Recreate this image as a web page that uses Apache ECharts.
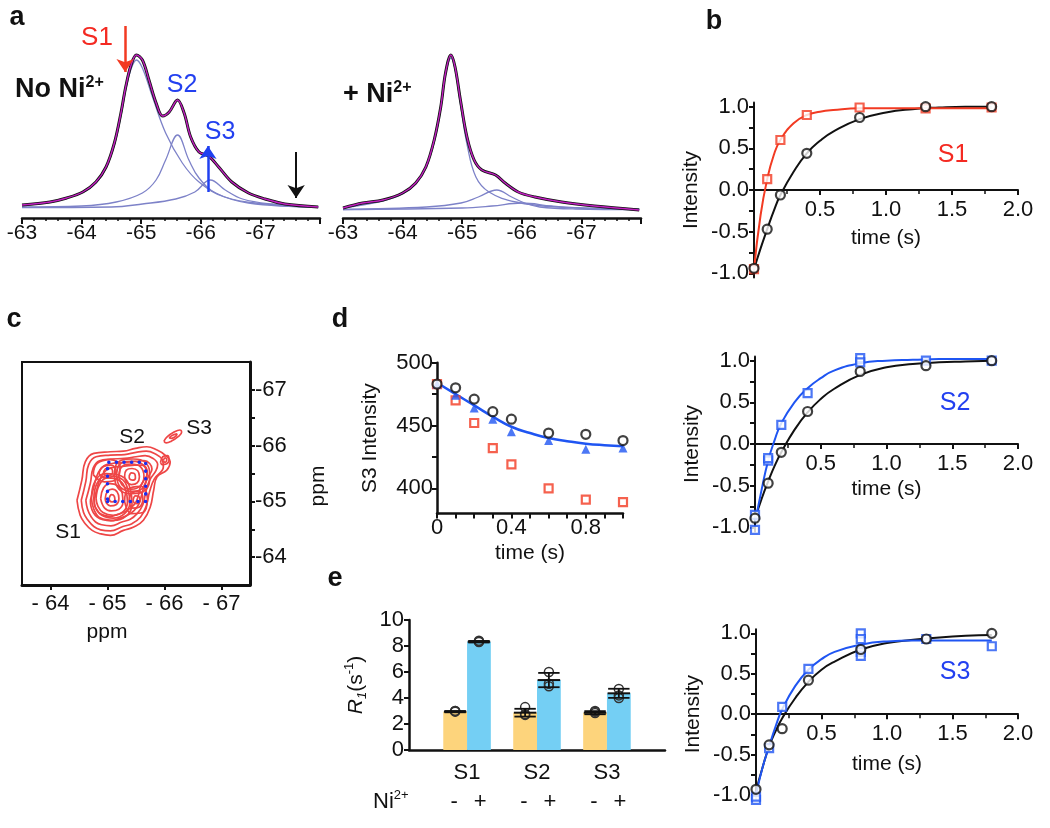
<!DOCTYPE html>
<html><head><meta charset="utf-8">
<script src="https://cdn.jsdelivr.net/npm/echarts@6/dist/echarts.min.js"></script>
<style>html,body{margin:0;padding:0;background:#fff}#c{width:1050px;height:828px}</style>
</head><body><div id="c"></div><script>
// ---------- panel a : 19F spectra (ppm, intensity) ----------
const aLeftPpm = [-63.0,-63.47,-63.75,-64.02,-64.24,-64.41,-64.55,-64.66,-64.74,-64.83,-64.92,-65.02,-65.13,-65.25,-65.36,-65.47,-65.61,-65.72,-65.83,-65.97,-66.13,-66.3,-66.52,-66.8,-67.08,-67.41,-67.97];
const aLeftSum = [3,6,10,16,26,41,65,95,121,143,153,148,128,105,92,96,108,95,71,56,52,41,26,15,9,4,1];
const aLeftS1Ppm = [-63.0,-63.5,-64.0,-64.24,-64.41,-64.55,-64.66,-64.74,-64.83,-64.92,-65.02,-65.19,-65.41,-65.69,-65.97,-66.4,-67.08,-67.97];
const aLeftS1 = [3,6,15,25,40,63,92,118,139,148,140,111,75,45,26,11,4,1];
const aLeftS2Ppm = [-63.0,-64.0,-64.58,-65.02,-65.25,-65.41,-65.61,-65.8,-65.97,-66.25,-66.8,-67.97];
const aLeftS2 = [1,2,6,15,28,48,73,48,30,15,5,1];
const aLeftS3Ppm = [-63.0,-64.5,-65.02,-65.58,-65.9,-66.16,-66.41,-66.7,-67.2,-67.97];
const aLeftS3 = [0.5,1,4,9,16,28,18,9,4,1];
const aRightPpm = [-63.0,-63.33,-63.67,-64.0,-64.22,-64.39,-64.53,-64.64,-64.72,-64.81,-64.88,-64.97,-65.08,-65.2,-65.33,-65.56,-65.72,-65.94,-66.22,-66.67,-67.22,-67.97];
const aRightSum = [2,7,10,17,27,43,70,103,137,155,143,110,73,50,40,35,27,18,13,8,4,0];
const aRightS1Ppm = [-63.0,-63.67,-64.0,-64.22,-64.39,-64.53,-64.64,-64.72,-64.81,-64.88,-64.97,-65.08,-65.23,-65.45,-65.9,-66.6,-67.97];
const aRightS1 = [2,9,16,26,42,68,101,135,152,141,106,66,33,18,8,3,1];
const aRightS2Ppm = [-63.0,-64.4,-64.98,-65.27,-65.58,-65.83,-66.05,-66.3,-66.9,-67.97];
const aRightS2 = [0.5,3,7,13,20,13,7,3,1,0.5];
const aRightS3Ppm = [-63.0,-65.0,-65.5,-66.0,-66.5,-67.0,-67.97];
const aRightS3 = [0.5,2,4,7,4,2,0.5];
const ppmTicks = [-63,-64,-65,-66,-67];

// ---------- panel b : inversion recovery ----------
const bTime = [0,0.1,0.2,0.4,0.8,1.3,1.8];
const bFitTime = [0,0.05,0.1,0.15,0.2,0.3,0.4,0.5,0.6,0.8,1.0,1.2,1.4,1.6,1.8];
const s1NoNi = [-0.94,-0.47,-0.06,0.44,0.87,1.0,1.0];
const s1Ni = [-0.95,0.13,0.6,0.9,0.99,0.98,0.99];
const s1NoNiFit = [-0.95,-0.70,-0.47,-0.25,-0.06,0.22,0.44,0.59,0.70,0.85,0.93,0.97,0.99,1.0,1.0];
const s1NiFit = [-0.95,-0.30,0.13,0.42,0.60,0.80,0.90,0.94,0.96,0.98,0.98,0.98,0.98,0.98,0.98];
const s2NoNi = [-0.89,-0.47,-0.1,0.39,0.87,0.94,1.0];
const s2NoNiFit = [-0.90,-0.66,-0.45,-0.26,-0.10,0.17,0.38,0.54,0.66,0.83,0.92,0.96,0.98,0.99,1.0];
const s2NiTime = [0,0,0.1,0.1,0.2,0.4,0.8,0.8,1.3,1.8];
const s2Ni = [-1.03,-0.85,-0.2,-0.17,0.23,0.61,1.03,0.98,1.0,1.0];
const s2NiFit = [-0.95,-0.55,-0.20,0.05,0.25,0.50,0.67,0.79,0.88,0.97,1.0,1.01,1.02,1.02,1.02];
const s3NoNi = [-0.93,-0.38,-0.18,0.42,0.8,0.93,1.0];
const s3NoNiFit = [-0.95,-0.66,-0.40,-0.21,-0.05,0.20,0.40,0.55,0.65,0.80,0.88,0.92,0.95,0.97,0.98];
const s3NiTime = [0,0,0.1,0.2,0.4,0.8,0.8,0.8,0.8,1.3,1.8];
const s3Ni = [-1.06,-1.02,-0.42,0.09,0.56,1.0,0.93,0.77,0.72,0.93,0.84];
const s3NiFit = [-1.0,-0.66,-0.40,-0.15,0.06,0.35,0.55,0.68,0.77,0.86,0.90,0.91,0.91,0.91,0.91];
const bYLabels = [-1,-0.5,0,0.5,1];
const bYTicks = [-1,-0.75,-0.5,-0.25,0,0.25,0.5,0.75,1];

// ---------- panel c : 2D contour rings (ppm, ppm) ----------
const ringOuter1 = [[-64.465,-65.02],[-64.55,-65.38],[-64.61,-65.71],[-64.76,-65.86],[-65.05,-65.89],[-65.28,-65.90],[-65.49,-65.95],[-65.69,-65.98],[-65.87,-65.92],[-66.01,-65.83],[-66.10,-65.71],[-66.04,-65.56],[-65.87,-65.44],[-65.81,-65.20],[-65.75,-64.90],[-65.63,-64.66],[-65.46,-64.54],[-65.28,-64.48],[-65.05,-64.39],[-64.87,-64.42],[-64.73,-64.48],[-64.61,-64.60],[-64.52,-64.75]];
const ringOuter2 = [[-64.54,-65.02],[-64.62,-65.36],[-64.67,-65.66],[-64.80,-65.80],[-65.05,-65.83],[-65.30,-65.84],[-65.50,-65.88],[-65.68,-65.90],[-65.84,-65.85],[-65.96,-65.75],[-65.98,-65.62],[-65.82,-65.40],[-65.74,-65.18],[-65.68,-64.92],[-65.58,-64.72],[-65.43,-64.60],[-65.27,-64.55],[-65.05,-64.47],[-64.88,-64.49],[-64.76,-64.55],[-64.66,-64.66],[-64.58,-64.80]];
const ringOuter3 = [[-64.62,-65.02],[-64.70,-65.33],[-64.75,-65.60],[-64.86,-65.73],[-65.06,-65.76],[-65.30,-65.77],[-65.50,-65.80],[-65.66,-65.82],[-65.80,-65.77],[-65.88,-65.66],[-65.85,-65.55],[-65.74,-65.38],[-65.67,-65.16],[-65.62,-64.94],[-65.52,-64.78],[-65.40,-64.68],[-65.25,-64.63],[-65.06,-64.56],[-64.90,-64.58],[-64.79,-64.63],[-64.71,-64.73],[-64.65,-64.86]];
const ringOuter4 = [[-64.70,-65.02],[-64.77,-65.30],[-64.84,-65.52],[-64.94,-65.64],[-65.08,-65.68],[-65.30,-65.70],[-65.50,-65.72],[-65.64,-65.73],[-65.74,-65.68],[-65.78,-65.58],[-65.72,-65.45],[-65.65,-65.30],[-65.60,-65.12],[-65.55,-64.95],[-65.46,-64.83],[-65.35,-64.75],[-65.22,-64.70],[-65.06,-64.65],[-64.92,-64.67],[-64.82,-64.72],[-64.75,-64.80],[-64.71,-64.91]];
const ringOuter5 = [[-64.77,-65.03],[-64.83,-65.28],[-64.90,-65.46],[-64.99,-65.57],[-65.10,-65.61],[-65.30,-65.63],[-65.48,-65.65],[-65.60,-65.65],[-65.68,-65.60],[-65.70,-65.50],[-65.65,-65.40],[-65.58,-65.27],[-65.54,-65.10],[-65.49,-64.97],[-65.40,-64.88],[-65.30,-64.81],[-65.18,-64.77],[-65.05,-64.73],[-64.94,-64.75],[-64.86,-64.79],[-64.80,-64.87],[-64.77,-64.95]];
const ringS1big = [[-64.72,-65.05],[-64.78,-65.36],[-64.97,-65.50],[-65.25,-65.45],[-65.40,-65.22],[-65.43,-64.95],[-65.33,-64.74],[-65.10,-64.66],[-64.88,-64.70],[-64.76,-64.86]];
const ringS1mid = [[-64.76,-65.05],[-64.82,-65.33],[-64.98,-65.46],[-65.22,-65.42],[-65.36,-65.21],[-65.39,-64.97],[-65.30,-64.78],[-65.10,-64.70],[-64.90,-64.75],[-64.79,-64.89]];
const ringS1a = [[-64.80,-65.05],[-64.86,-65.30],[-65.00,-65.42],[-65.20,-65.38],[-65.32,-65.20],[-65.35,-65.00],[-65.28,-64.82],[-65.10,-64.75],[-64.92,-64.80],[-64.83,-64.92]];
const ringS1b = [[-64.88,-65.05],[-64.93,-65.24],[-65.04,-65.32],[-65.18,-65.28],[-65.26,-65.14],[-65.27,-64.98],[-65.20,-64.86],[-65.07,-64.83],[-64.95,-64.88]];
const ringS1c = [[-64.96,-65.05],[-65.00,-65.18],[-65.08,-65.22],[-65.17,-65.17],[-65.20,-65.05],[-65.15,-64.94],[-65.05,-64.92],[-64.98,-64.97]];
const ringS1d = [[-65.03,-65.06],[-65.07,-65.12],[-65.12,-65.09],[-65.13,-65.02],[-65.08,-64.99],[-65.04,-65.01]];
const ringS2big = [[-65.12,-65.45],[-65.18,-65.70],[-65.45,-65.76],[-65.68,-65.68],[-65.74,-65.45],[-65.66,-65.20],[-65.42,-65.14],[-65.20,-65.22]];
const ringS2mid = [[-65.16,-65.45],[-65.21,-65.66],[-65.43,-65.72],[-65.63,-65.65],[-65.69,-65.45],[-65.62,-65.24],[-65.42,-65.18],[-65.23,-65.25]];
const ringS2a = [[-65.20,-65.45],[-65.25,-65.62],[-65.42,-65.67],[-65.58,-65.62],[-65.64,-65.45],[-65.58,-65.28],[-65.42,-65.22],[-65.27,-65.28]];
const ringS2b = [[-65.30,-65.45],[-65.33,-65.56],[-65.43,-65.59],[-65.53,-65.55],[-65.56,-65.44],[-65.52,-65.33],[-65.42,-65.30],[-65.33,-65.35]];
const ringS2c = [[-65.38,-65.45],[-65.42,-65.51],[-65.48,-65.49],[-65.49,-65.42],[-65.44,-65.38],[-65.39,-65.40]];
const ringCrossBig1 = [[-65.30,-65.00],[-65.36,-65.22],[-65.58,-65.27],[-65.70,-65.05],[-65.62,-64.80],[-65.42,-64.78]];
const ringCrossA = [[-65.38,-65.02],[-65.43,-65.15],[-65.55,-65.18],[-65.62,-65.05],[-65.56,-64.90],[-65.44,-64.88]];
const ringCrossB = [[-65.45,-65.03],[-65.49,-65.10],[-65.55,-65.09],[-65.57,-65.02],[-65.52,-64.96],[-65.47,-64.97]];
const ringCrossBig2 = [[-64.75,-65.48],[-64.82,-65.68],[-65.05,-65.75],[-65.22,-65.62],[-65.18,-65.42],[-64.95,-65.35]];
const ringCrossC = [[-64.85,-65.50],[-64.92,-65.62],[-65.06,-65.65],[-65.15,-65.55],[-65.10,-65.45],[-64.95,-65.42]];
const ringCrossD = [[-64.93,-65.52],[-64.98,-65.59],[-65.06,-65.59],[-65.09,-65.52],[-65.03,-65.47],[-64.96,-65.47]];
const ringSideA = [[-65.93,-65.70],[-65.97,-65.80],[-66.05,-65.82],[-66.08,-65.74],[-66.03,-65.67],[-65.96,-65.66]];
const ringSideB = [[-65.98,-65.73],[-66.01,-65.78],[-66.04,-65.75],[-66.01,-65.70]];
const ringS3a = [[-65.99,-66.08],[-66.05,-66.16],[-66.16,-66.24],[-66.27,-66.28],[-66.30,-66.24],[-66.24,-66.16],[-66.12,-66.08],[-66.03,-66.05]];
const ringS3b = [[-66.08,-66.14],[-66.15,-66.19],[-66.22,-66.21],[-66.19,-66.16],[-66.12,-66.13]];
const contourRings = [ringOuter1,ringOuter2,ringOuter3,ringOuter4,ringOuter5,ringS1big,ringS1mid,ringS1a,ringS1b,ringS1c,ringS1d,ringS2big,ringS2mid,ringS2a,ringS2b,ringS2c,ringCrossBig1,ringCrossA,ringCrossB,ringCrossBig2,ringCrossC,ringCrossD,ringSideA,ringSideB,ringS3a,ringS3b];
const boxCorners = [[-65.0,-65.0],[-65.67,-65.0],[-65.67,-65.7],[-65.0,-65.7],[-65.0,-65.0]];
const cTicks = [-67,-66,-65,-64];
const cYTicks = [-67,-66.5,-66,-65.5,-65,-64.5,-64];

// ---------- panel d : S3 intensity vs time ----------
const dTime = [0,0.1,0.2,0.3,0.4,0.6,0.8,1.0];
const dBlack = [483,480,471,461,455,444,443,438];
const dRed = [483,470,452,432,419,400,391,389];
const dBlue = [483,474,464,455,445,438,431,432];
const dFitTime = [0,0.1,0.2,0.3,0.4,0.5,0.6,0.7,0.8,0.9,1.0];
const dFit = [484,475,466,457,449,444,440,437.5,435.5,434.3,433.5];
const dYLabels = [400,450,500];
const dYTicks = [400,425,450,475,500];

// ---------- panel e : R1 bars ----------
const r1Cats = ['S1','S2','S3'];
const r1Pos = [1,2,3];
const r1NoNi = [2.95,2.87,2.87];
const r1Ni = [8.33,5.38,4.36];
const r1NoNiSd = [0.05,0.3,0.12];
const r1NiSd = [0.06,0.55,0.35];
const r1NoNiPts = [[3.0,3.0,2.95],[3.3,2.75,2.7],[2.95,2.85,3.0]];
const r1NiPts = [[8.3,8.4,8.35],[6.0,5.1,4.9],[4.7,4.2,4.0]];

// ---------- styling ----------
const FONT = '"Liberation Sans", Arial, Helvetica, sans-serif';
const BLACK = '#111111';
const RED = '#f23a22';
const BLUE = '#1f55f2';
const TXTBLUE = '#2340f0';
const COMP = '#7d82c8';
const MAG = '#c01fbf';
const ORANGE = '#fdd47c';
const SKY = '#74cff4';
const CONTOUR = '#ee4646';

const pairs = (xs, ys) => xs.map((x, i) => [x, ys[i]]);
const lbl = (size, extra) => Object.assign({color: BLACK, fontFamily: FONT, fontSize: size}, extra || {});

function line(gi, data, color, width, smooth, z) {
  return {type: 'line', xAxisIndex: gi, yAxisIndex: gi, data, symbol: 'none', showSymbol: false,
    smooth: smooth, lineStyle: {color, width}, clip: false, silent: true, z: z || 2};
}
function scat(gi, data, symbol, size, color, filled) {
  return {type: 'scatter', xAxisIndex: gi, yAxisIndex: gi, data, symbol, symbolSize: size, clip: false, silent: true, z: 5,
    itemStyle: filled ? {color} : {color: '#ffffff', borderColor: color, borderWidth: 2.2}};
}

const grids = [
  {left: 22, top: 20, width: 298, height: 198},
  {left: 343, top: 20, width: 298, height: 198},
  {left: 754, top: 102.5, width: 264, height: 175},
  {left: 755, top: 356.5, width: 263, height: 175},
  {left: 756, top: 629.3, width: 262, height: 169.7},
  {left: 22, top: 362, width: 228, height: 223, show: true, borderColor: BLACK, borderWidth: 2},
  {left: 437, top: 362.7, width: 186, height: 150.7},
  {left: 409, top: 620, width: 256, height: 130}
];

function aX(gi) {
  return {type: 'value', gridIndex: gi, min: -68, max: -63, inverse: true, interval: 1,
    axisLine: {onZero: false, lineStyle: {color: BLACK, width: 2.5}},
    axisTick: {length: 6, lineStyle: {color: BLACK, width: 2}},
    minorTick: {show: true, splitNumber: 5, length: 3, lineStyle: {color: BLACK, width: 1.5}},
    splitLine: {show: false}, minorSplitLine: {show: false},
    axisLabel: lbl(21, {margin: 5, formatter: v => ppmTicks.indexOf(v) >= 0 ? String(v) : ''})};
}
function bX(gi, gap) {
  // x axis sits on y = 0, which is the vertical middle of the symmetric y range
  return {type: 'value', gridIndex: gi, min: 0, max: 2, interval: 0.5,
    offset: -grids[gi].height / 2,
    axisLine: {onZero: false, lineStyle: {color: BLACK, width: 2}},
    axisTick: {length: 5, lineStyle: {color: BLACK, width: 2}},
    minorTick: {show: true, splitNumber: 2, length: 4, lineStyle: {color: BLACK, width: 1.5}},
    splitLine: {show: false}, minorSplitLine: {show: false},
    axisLabel: lbl(22, {margin: 9, formatter: v => v === 0 ? '' : v.toFixed(1)}),
    name: 'time (s)', nameLocation: 'middle', nameGap: gap, nameTextStyle: lbl(21)};
}
function bY(gi) {
  return {type: 'value', gridIndex: gi, min: -1.05, max: 1.05,
    axisLine: {onZero: false, lineStyle: {color: BLACK, width: 2}},
    axisTick: {length: 5, customValues: bYTicks, lineStyle: {color: BLACK, width: 2}},
    splitLine: {show: false},
    axisLabel: lbl(22, {margin: 5, customValues: bYLabels, formatter: v => v.toFixed(1)}),
    name: 'Intensity', nameLocation: 'middle', nameRotate: 90, nameGap: 52, nameTextStyle: lbl(21)};
}

const xAxes = [
  aX(0), aX(1), bX(2, 38), bX(3, 35), bX(4, 40),
  {type: 'value', gridIndex: 5, min: -67.5, max: -63.5, inverse: true,
    axisLine: {onZero: false, lineStyle: {color: BLACK, width: 3}},
    axisTick: {length: 5, customValues: cTicks, lineStyle: {color: BLACK, width: 2}},
    splitLine: {show: false},
    axisLabel: lbl(22, {margin: 8, customValues: cTicks, formatter: v => '- ' + Math.abs(v)})},
  {type: 'value', gridIndex: 6, min: 0, max: 1, interval: 0.1,
    axisLine: {onZero: false, lineStyle: {color: BLACK, width: 2.5}},
    axisTick: {length: 5, lineStyle: {color: BLACK, width: 2}}, splitLine: {show: false},
    axisLabel: lbl(22, {margin: 4, formatter: v => { const k = Math.round(v * 10); return k === 0 ? '0' : (k === 4 || k === 8) ? (k / 10).toFixed(1) : ''; }}),
    name: 'time (s)', nameLocation: 'middle', nameGap: 29, nameTextStyle: lbl(21)},
  {type: 'value', gridIndex: 7, min: 0.17, max: 3.83,
    axisLine: {onZero: false, lineStyle: {color: BLACK, width: 2.5}},
    axisTick: {show: false}, splitLine: {show: false},
    axisLabel: {customValues: r1Pos, margin: 8, color: BLACK, fontFamily: FONT,
      formatter: v => '{s|' + r1Cats[Math.round(v) - 1] + '}\n{m|-}{p|+}',
      rich: {s: {fontSize: 22, lineHeight: 29, fontFamily: FONT, color: BLACK},
             m: {fontSize: 22, lineHeight: 29, width: 26, align: 'center', fontFamily: FONT, color: BLACK},
             p: {fontSize: 22, lineHeight: 29, width: 26, align: 'center', fontFamily: FONT, color: BLACK}}}}
];

const yAxes = [
  {type: 'value', gridIndex: 0, min: -10, max: 188, show: false},
  {type: 'value', gridIndex: 1, min: -8, max: 190, show: false},
  bY(2), bY(3), bY(4),
  {type: 'value', gridIndex: 5, position: 'right', min: -67.5, max: -63.5, inverse: true,
    axisLine: {onZero: false, lineStyle: {color: BLACK, width: 3}},
    axisTick: {length: 5, customValues: cYTicks, lineStyle: {color: BLACK, width: 2}},
    splitLine: {show: false},
    axisLabel: lbl(22, {margin: 5, customValues: cTicks, formatter: v => String(v)})},
  {type: 'value', gridIndex: 6, min: 380, max: 500,
    axisLine: {onZero: false, lineStyle: {color: BLACK, width: 2.5}},
    axisTick: {length: 5, customValues: dYTicks, lineStyle: {color: BLACK, width: 2}},
    splitLine: {show: false},
    axisLabel: lbl(22, {margin: 4, customValues: dYLabels}),
    name: 'S3 Intensity', nameLocation: 'middle', nameRotate: 90, nameGap: 56, nameTextStyle: lbl(21)},
  {type: 'value', gridIndex: 7, min: 0, max: 10, interval: 2,
    axisLine: {onZero: false, lineStyle: {color: BLACK, width: 2.5}},
    axisTick: {length: 5, lineStyle: {color: BLACK, width: 2}}, splitLine: {show: false},
    axisLabel: lbl(22, {margin: 5}),
    name: '{r|R}{sub|1}{n|(s}{sup|-1}{n|)}', nameLocation: 'middle', nameRotate: 90, nameGap: 40,
    nameTextStyle: {color: BLACK, fontFamily: FONT, rich: {
      r: {fontSize: 21, fontStyle: 'italic', fontFamily: FONT, color: BLACK, lineHeight: 26},
      sub: {fontSize: 13, fontStyle: 'italic', fontFamily: FONT, color: BLACK, verticalAlign: 'bottom', lineHeight: 26},
      n: {fontSize: 21, fontFamily: FONT, color: BLACK, lineHeight: 26},
      sup: {fontSize: 13, fontFamily: FONT, color: BLACK, verticalAlign: 'top', lineHeight: 26}}}}
];

// bar + error + points renderer for panel e
function barRender(side, fill) {
  return function (params, api) {
    const x = api.value(0), m = api.value(1), sd = api.value(2);
    const unit = api.size([1, 0])[0];
    const bw = unit * 0.34;
    const base = api.coord([x, 0]);
    const top = api.coord([x, m]);
    const left = side < 0 ? base[0] - bw : base[0];
    const cx = left + bw / 2;
    const lo = api.coord([x, m - sd])[1], hi = api.coord([x, m + sd])[1];
    const cap = bw * 0.45;
    const ch = [{type: 'rect', shape: {x: left, y: top[1], width: bw, height: base[1] - top[1]}, style: {fill}}];
    for (let k = 3; k < 6; k++) {
      const py = api.coord([x, api.value(k)])[1];
      ch.push({type: 'circle', shape: {cx, cy: py, r: 4.5}, style: {fill: 'none', stroke: '#333', lineWidth: 1.5}});
    }
    const ls = {stroke: BLACK, lineWidth: 1.8};
    ch.push({type: 'line', shape: {x1: cx, y1: lo, x2: cx, y2: hi}, style: ls});
    ch.push({type: 'line', shape: {x1: cx - cap, y1: hi, x2: cx + cap, y2: hi}, style: ls});
    ch.push({type: 'line', shape: {x1: cx - cap, y1: lo, x2: cx + cap, y2: lo}, style: ls});
    ch.push({type: 'line', shape: {x1: cx - cap * 1.05, y1: top[1], x2: cx + cap * 1.05, y2: top[1]}, style: {stroke: BLACK, lineWidth: 2}});
    return {type: 'group', children: ch};
  };
}

const arrowMark = {
  silent: true, animation: false, symbol: ['none', 'arrow'], symbolSize: 13, label: {show: false},
  emphasis: {disabled: true},
  data: [
    [{coord: [-64.73, 182], lineStyle: {color: RED, width: 2.5, type: 'solid'}}, {coord: [-64.73, 136]}],
    [{coord: [-66.12, 16], lineStyle: {color: '#2040f0', width: 2.5, type: 'solid'}}, {coord: [-66.12, 62]}],
    [{coord: [-67.6, 56], lineStyle: {color: BLACK, width: 2, type: 'solid'}}, {coord: [-67.6, 10]}]
  ]
};

const series = [
  // a left
  line(0, pairs(aLeftS1Ppm, aLeftS1), COMP, 1.3, 0.4, 2),
  line(0, pairs(aLeftS2Ppm, aLeftS2), COMP, 1.3, 0.4, 2),
  Object.assign(line(0, pairs(aLeftS3Ppm, aLeftS3), COMP, 1.3, 0.4, 2), {markLine: arrowMark}),
  line(0, pairs(aLeftPpm, aLeftSum), BLACK, 3, 0.35, 3),
  line(0, pairs(aLeftPpm, aLeftSum), MAG, 1.4, 0.35, 4),
  // a right
  line(1, pairs(aRightS1Ppm, aRightS1), COMP, 1.3, 0.4, 2),
  line(1, pairs(aRightS2Ppm, aRightS2), COMP, 1.3, 0.4, 2),
  line(1, pairs(aRightS3Ppm, aRightS3), COMP, 1.3, 0.4, 2),
  line(1, pairs(aRightPpm, aRightSum), BLACK, 3, 0.35, 3),
  line(1, pairs(aRightPpm, aRightSum), MAG, 1.4, 0.35, 4),
  // b top (S1)
  line(2, pairs(bFitTime, s1NoNiFit), BLACK, 2, 0.5),
  line(2, pairs(bFitTime, s1NiFit), RED, 2, 0.5),
  scat(2, pairs(bTime, s1Ni), 'rect', 8, RED, false),
  scat(2, pairs(bTime, s1NoNi), 'circle', 9, BLACK, false),
  // b mid (S2)
  line(3, pairs(bFitTime, s2NoNiFit), BLACK, 2, 0.5),
  line(3, pairs(bFitTime, s2NiFit), BLUE, 2, 0.5),
  scat(3, pairs(s2NiTime, s2Ni), 'rect', 8, BLUE, false),
  scat(3, pairs(bTime, s2NoNi), 'circle', 9, BLACK, false),
  // b bottom (S3)
  line(4, pairs(bFitTime, s3NoNiFit), BLACK, 2, 0.5),
  line(4, pairs(bFitTime, s3NiFit), BLUE, 2, 0.5),
  scat(4, pairs(s3NiTime, s3Ni), 'rect', 8, BLUE, false),
  scat(4, pairs(bTime, s3NoNi), 'circle', 9, BLACK, false),
  // c contours
  ...contourRings.map(r => line(5, r.concat([r[0]]), CONTOUR, 1.7, 0.45, 2)),
  Object.assign(line(5, boxCorners, '#1a2ef0', 3.5, false, 4), {lineStyle: {color: '#1a2ef0', width: 3.5, type: [0.1, 7.5], cap: 'round'}}),
  // d
  line(6, pairs(dFitTime, dFit), BLUE, 2.5, 0.5, 3),
  scat(6, pairs(dTime, dRed), 'rect', 8, RED, false),
  scat(6, pairs(dTime, dBlue), 'triangle', 9, BLUE, true),
  scat(6, pairs(dTime, dBlack), 'circle', 9, BLACK, false),
  // e
  {type: 'custom', xAxisIndex: 7, yAxisIndex: 7, renderItem: barRender(-1, ORANGE), clip: false, silent: true,
    encode: {x: 0, y: 1}, data: r1Pos.map((p, i) => [p, r1NoNi[i], r1NoNiSd[i]].concat(r1NoNiPts[i]))},
  {type: 'custom', xAxisIndex: 7, yAxisIndex: 7, renderItem: barRender(1, SKY), clip: false, silent: true,
    encode: {x: 0, y: 1}, data: r1Pos.map((p, i) => [p, r1Ni[i], r1NiSd[i]].concat(r1NiPts[i]))}
];

function T(text, x, y, o) {
  o = o || {};
  return {type: 'text', x, y, rotation: o.rot || 0, silent: true, z: 100,
    style: {text, fill: o.color || BLACK, fontSize: o.size || 20, fontWeight: o.bold ? 'bold' : 'normal',
      fontFamily: FONT, align: o.align || 'center', verticalAlign: 'middle', rich: o.rich}};
}
const supRich = (size, bold) => ({
  n: {fontSize: size, fontWeight: bold ? 'bold' : 'normal', fontFamily: FONT, color: BLACK, lineHeight: size + 4},
  s: {fontSize: Math.round(size * 0.58), fontWeight: bold ? 'bold' : 'normal', fontFamily: FONT, color: BLACK, verticalAlign: 'top', lineHeight: size + 4}
});

const graphic = [
  T('a', 17, 18, {size: 27, bold: true}),
  T('b', 714, 22, {size: 27, bold: true}),
  T('c', 14, 320, {size: 27, bold: true}),
  T('d', 340, 320, {size: 27, bold: true}),
  T('e', 335, 579, {size: 27, bold: true}),
  T('S1', 97, 38, {size: 26, color: '#f42a22'}),
  T('S2', 182, 85, {size: 25, color: TXTBLUE}),
  T('S3', 220, 132, {size: 25, color: TXTBLUE}),
  T('{n|No Ni}{s|2+}', 15, 90, {align: 'left', rich: supRich(27, true)}),
  T('{n|+ Ni}{s|2+}', 343, 95, {align: 'left', rich: supRich(27, true)}),
  T('S1', 953, 155, {size: 25, color: '#f42a22'}),
  T('S2', 955, 403, {size: 25, color: TXTBLUE}),
  T('S3', 955, 672, {size: 25, color: TXTBLUE}),
  T('S2', 132, 437, {size: 21}),
  T('S3', 199, 428, {size: 21}),
  T('S1', 68, 532, {size: 21}),
  T('ppm', 107, 632, {size: 21}),
  T('ppm', 318, 486, {size: 21, rot: Math.PI / 2}),
  T('{n|Ni}{s|2+}', 373, 802, {align: 'left', rich: supRich(22, false)})
];

const chart = echarts.init(document.getElementById('c'), null, {renderer: 'canvas'});
chart.setOption({animation: false, textStyle: {fontFamily: FONT}, grid: grids, xAxis: xAxes, yAxis: yAxes, series, graphic});
</script></body></html>
